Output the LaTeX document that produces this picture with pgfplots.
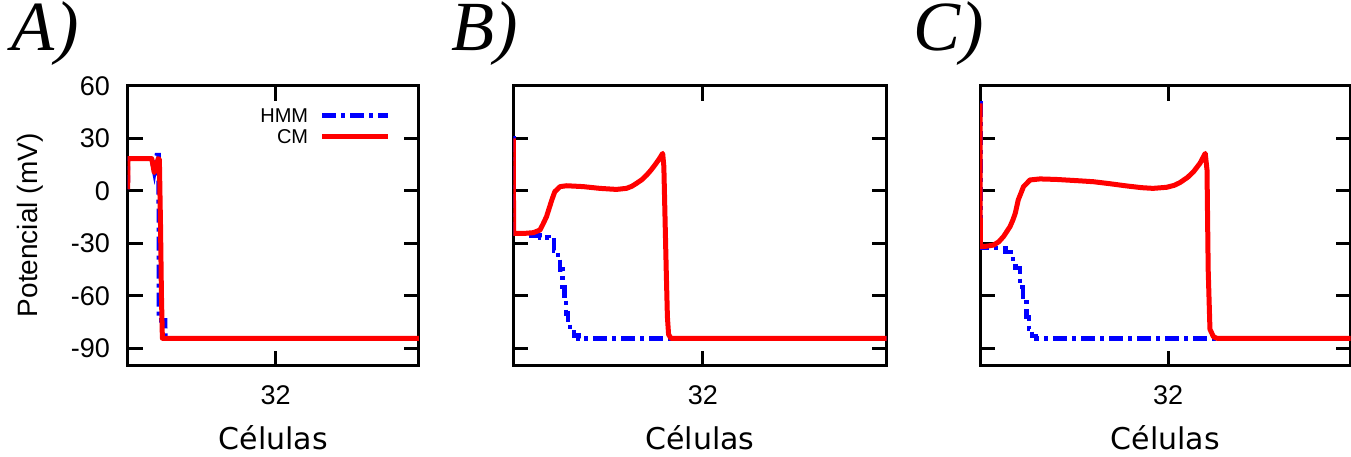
\documentclass[border=0pt]{standalone}
\usepackage{fontspec}
\setmainfont{Liberation Sans}
\newfontfamily\labelfont{DejaVu Sans}
\newfontfamily\panelfont{Liberation Serif}
\usepackage{pgfplots}
\pgfplotsset{compat=1.18}

\definecolor{hmmblue}{RGB}{0,0,255}
\definecolor{cmred}{RGB}{255,0,0}

\pgfplotsset{
  panel/.style={
    scale only axis, height=280pt, anchor=south west,
    xmin=0, xmax=63, ymin=-100, ymax=60,
    xtick={32}, xticklabels={32},
    ytick={-90,-60,-30,0,30,60},
    tick align=inside, major tick length=15pt,
    tick style={line width=3pt, black},
    axis line style={line width=3pt},
    xtick pos=both, ytick pos=both,
    ticklabel style={font=\fontsize{27}{27}\selectfont, inner sep=0pt},
    xticklabel style={yshift=-19pt},
    yticklabel style={xshift=-17.5pt},
    xlabel={\labelfont\fontsize{30}{30}\selectfont Células},
    xlabel style={at={(axis description cs:0.5,0)}, anchor=base, yshift=-84pt, inner sep=0pt},
    title style={anchor=base west, inner sep=0pt,
      font=\panelfont\itshape\fontsize{70.5}{70.5}\selectfont},
  },
  hmm/.style={const plot, color=hmmblue, line width=4.5pt,
    dash pattern=on 14pt off 5pt on 4pt off 5pt},
  cm/.style={sharp plot, color=cmred, line width=5pt, line join=round},
}

\begin{document}
\begin{tikzpicture}
\path[use as bounding box] (0,0) rectangle (1351pt,457pt);

% Panel A
\begin{axis}[panel, at={(127.7pt,91pt)}, width=291.3pt,
  yticklabels={-90,-60,-30,0,30,60},
  ylabel={Potencial (mV)},
  ylabel style={at={(axis description cs:-0.334,0.502)}, anchor=center,
    inner sep=0pt, font=\fontsize{28}{28}\selectfont},
  title={A)}, title style={at={(axis description cs:-0.398,1.104)}},
  legend style={draw=none, fill=none, at={(axis description cs:0.904,0.921)},
    anchor=north east, inner sep=0pt, row sep=6.4pt, column sep=11.7pt,
    font=\fontsize{20}{20}\selectfont,
    nodes={inner sep=0pt, text height=14.3pt, text depth=0pt}},
  legend plot pos=right,
  legend cell align=right,
  legend image code/.code={\draw[#1] (0pt,0pt) -- (66pt,0pt);},
]
\addplot[hmm, sharp plot] coordinates {
  (0,1) (0.05,18.5) (5.2,18.5) (5.75,11) (6.3,20.5) (6.7,20.5)
  (6.75,-74) (8.1,-74) (8.15,-84.2) (63,-84.2)
};
\addlegendentry{HMM}
\addplot[cm] coordinates {
  (0,1) (0.05,18.5) (5.2,18.5) (5.75,10.5) (6.6,18.5) (6.85,18)
  (7.1,-20) (7.3,-60) (7.5,-84.2) (63,-84.2)
};
\addlegendentry{CM}
\end{axis}

% Panel B
\begin{axis}[panel, at={(513.3pt,91pt)}, width=373.4pt,
  yticklabels={},
  title={B)}, title style={at={(axis description cs:-0.165,1.104)}},
]
\addplot[hmm] coordinates {
  (0,30) (0.05,-24.2) (1.5,-24.5) (3,-25.5) (4.5,-26.5) (6,-28)
  (6.9,-34) (7.5,-38.5) (7.9,-45) (8.3,-55) (8.6,-62) (8.9,-70)
  (9.2,-75) (9.6,-79) (10.2,-82.5) (11,-84.2) (63,-84.2)
};
\addplot[cm] coordinates {
  (0,30) (0.05,-24.2) (2.0,-24.2) (3.4,-23.8) (4.5,-22.3) (5.0,-19)
  (5.6,-14.7) (6.5,-5.1) (7.0,-0.4) (7.9,2.5) (9.0,3.0) (11.8,2.5)
  (14.6,1.5) (17.4,0.9) (19.1,1.5) (20.0,2.7) (20.8,4.4) (21.7,6.5)
  (22.5,9.1) (23.2,11.8) (23.9,14.9) (24.6,18.2) (25.2,21.5) (25.4,14)
  (25.8,-45) (26.0,-72) (26.2,-82) (26.6,-84.2) (63,-84.2)
};
\end{axis}

% Panel C
\begin{axis}[panel, at={(980pt,91pt)}, width=370.5pt,
  yticklabels={},
  title={C)}, title style={at={(axis description cs:-0.181,1.104)}},
]
\addplot[hmm] coordinates {
  (0,50) (0.05,-32.7) (4.3,-35) (5.3,-39) (6.0,-44) (6.8,-55)
  (7.3,-62) (7.9,-72) (8.3,-79) (8.8,-83) (9.5,-84.2) (63,-84.2)
};
\addplot[cm] coordinates {
  (0,50) (0.05,-31.8) (1.0,-31.6) (2.3,-30.9) (3.2,-29) (4.0,-26)
  (5.1,-20.4) (5.6,-16.5) (6.0,-12.7) (6.5,-5.1) (7.4,2.5) (8.5,6.3)
  (10.2,6.9) (13,6.6) (17,5.8) (19.3,5.3) (22,4.2) (24.9,2.9)
  (27.5,1.9) (29.4,1.5) (31.7,2.1) (33,3.2) (34.0,4.8) (35.3,7.8)
  (36.3,11.0) (37.4,15.8) (38.3,21.5) (38.6,12) (38.8,-45) (39.1,-79)
  (39.7,-83.3) (40.3,-84.2) (63,-84.2)
};
\end{axis}
\end{tikzpicture}
\end{document}
